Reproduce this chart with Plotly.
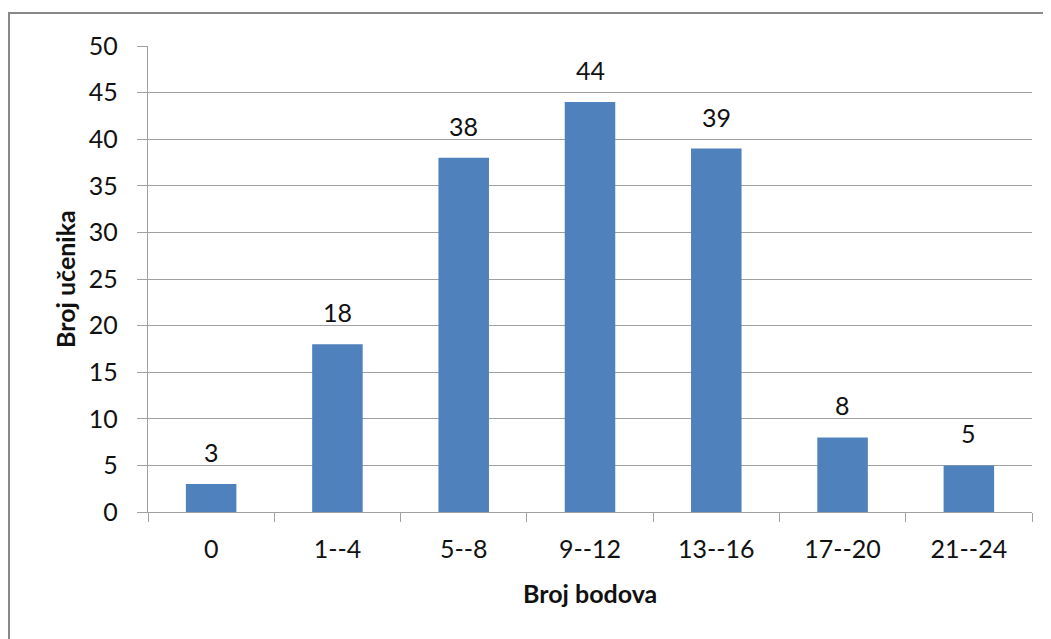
import plotly.graph_objects as go

categories = ["0", "1--4", "5--8", "9--12", "13--16", "17--20", "21--24"]
counts = [3, 18, 38, 44, 39, 8, 5]
y_ticks = [0, 5, 10, 15, 20, 25, 30, 35, 40, 45, 50]
x_title = "Broj bodova"
y_title = "Broj učenika"

FONT = "Lato, 'Liberation Sans', sans-serif"
GRID = "#A0A0A0"

# page body adds an 8px offset; compensate so the figure lands at target pixels
OFF = 8
W, H = 1051 - OFF, 639 - OFF
L, R, T, B = 148 - OFF, 19, 46 - OFF, 127
pw, ph = W - L - R, H - T - B
AX_BOTTOM = 512 - OFF  # pixel row of the x axis inside the figure


def px_x(x):
    return (x - OFF - L) / pw


def px_y(y):
    return (AX_BOTTOM - (y - OFF)) / ph


fig = go.Figure(go.Bar(
    x=categories, y=counts,
    marker=dict(color="#4F81BD", line=dict(width=0)),
    hoverinfo="x+y",
))

for c, v in zip(categories, counts):
    fig.add_annotation(x=c, y=v, text=str(v), showarrow=False,
                       yanchor="bottom", yshift=15,
                       font=dict(family=FONT, size=25, color="#111"))

fig.add_annotation(xref="paper", yref="paper", x=0.5, y=px_y(593),
                   text="<b>" + x_title + "</b>", showarrow=False,
                   xanchor="center", yanchor="middle",
                   font=dict(family=FONT, size=25, color="#111"))
fig.add_annotation(xref="paper", yref="paper", x=px_x(65), y=0.5,
                   text="<b>" + y_title + "</b>", showarrow=False, textangle=-90,
                   xanchor="center", yanchor="middle",
                   font=dict(family=FONT, size=25, color="#111"))

# outer chart border
fig.add_shape(type="rect", xref="paper", yref="paper",
              x0=px_x(9), x1=px_x(1048),
              y0=px_y(660), y1=px_y(13),
              line=dict(color="#888888", width=2), fillcolor="rgba(0,0,0,0)",
              layer="below")

fig.update_layout(
    width=W, height=H,
    margin=dict(l=L, r=R, t=T, b=B, autoexpand=False),
    paper_bgcolor="white", plot_bgcolor="white",
    bargap=0.6, showlegend=False,
    font=dict(family=FONT, size=25, color="#111"),
    xaxis=dict(
        showline=True, linecolor=GRID, linewidth=1.3,
        ticks="outside", tickson="boundaries", ticklen=9, tickcolor=GRID, tickwidth=1.3,
        showgrid=False, ticklabelstandoff=15,
        tickfont=dict(family=FONT, size=25, color="#111"),
    ),
    yaxis=dict(
        range=[0, 50], tickvals=y_ticks,
        showline=True, linecolor=GRID, linewidth=1.3,
        ticks="outside", ticklen=10, tickcolor=GRID, tickwidth=1.3,
        showgrid=True, gridcolor=GRID, gridwidth=1.3,
        zeroline=False, ticklabelstandoff=14,
        tickfont=dict(family=FONT, size=25, color="#111"),
    ),
)

fig.write_html("out.html")
